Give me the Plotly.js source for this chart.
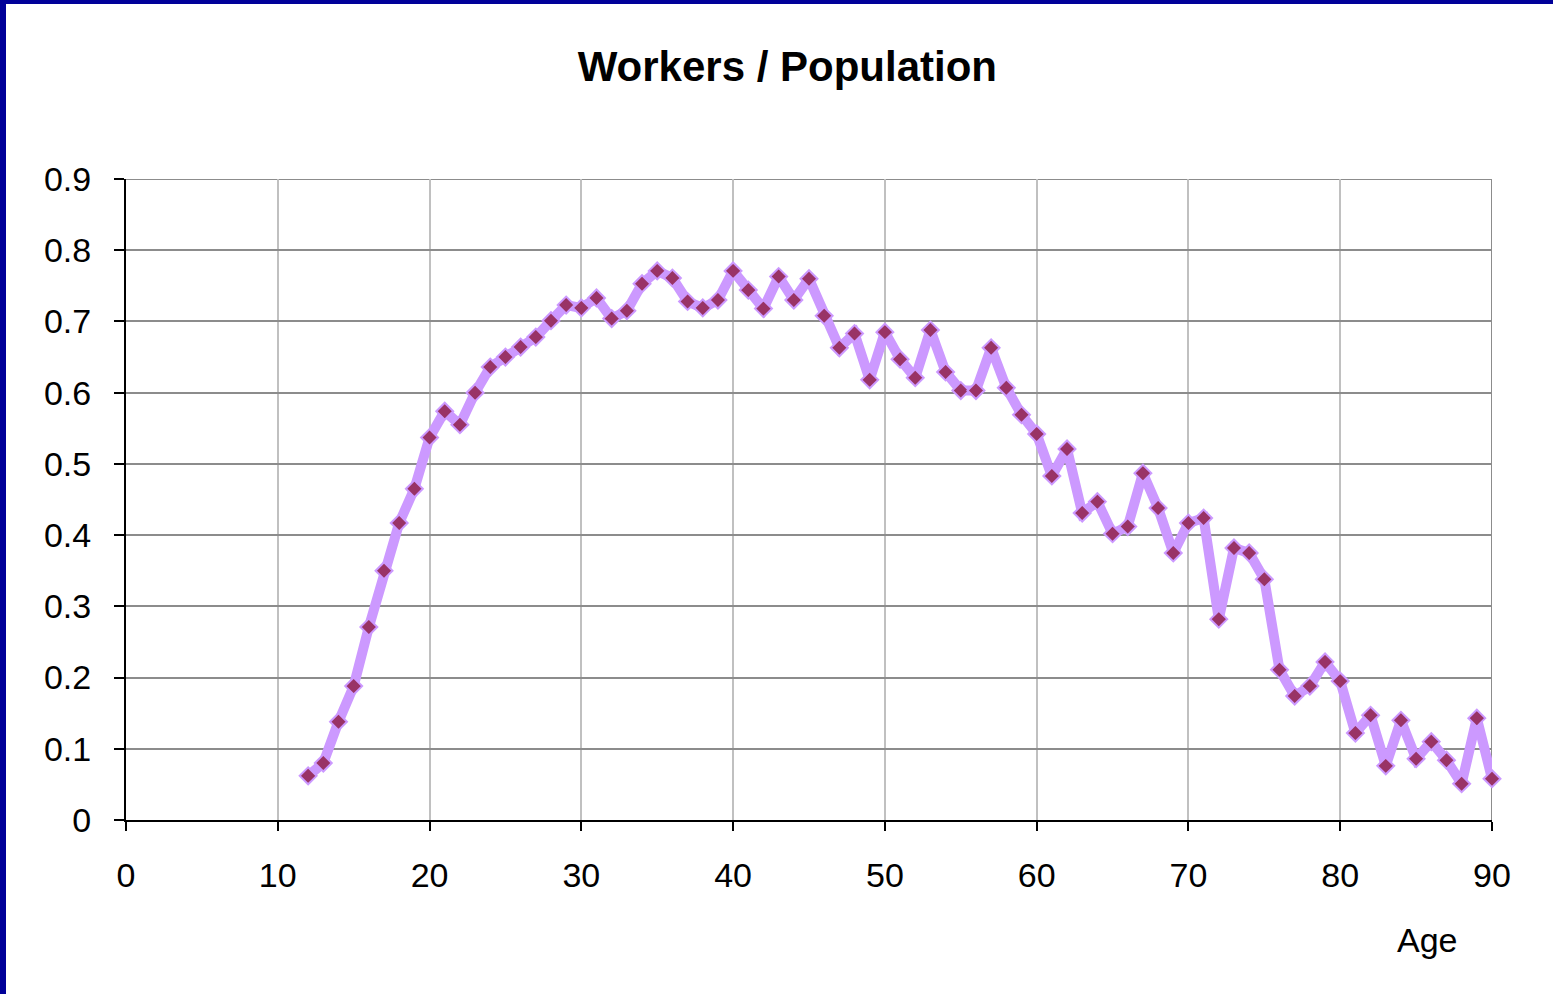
<!DOCTYPE html>
<html>
<head>
<meta charset="utf-8">
<script src="https://cdn.plot.ly/plotly-3.0.1.min.js"></script>
<style>
  html, body { margin: 0; padding: 0; background: #ffffff; }
  #wrap { position: relative; width: 1553px; height: 994px; overflow: hidden; }
  #chart { position: absolute; left: 0; top: 0; width: 1553px; height: 994px; }
  #bTop { position: absolute; left: 0; top: 0; width: 1553px; height: 4px; background: #000099; }
  #bLeft { position: absolute; left: 0; top: 0; width: 6px; height: 994px; background: #000099; }
</style>
</head>
<body>
<div id="wrap">
  <div id="chart"></div>
  <div id="bTop"></div>
  <div id="bLeft"></div>
</div>
<script>
const ages = [12,13,14,15,16,17,18,19,20,21,22,23,24,25,26,27,28,29,30,31,32,33,34,35,36,37,38,39,40,
  41,42,43,44,45,46,47,48,49,50,51,52,53,54,55,56,57,58,59,60,61,62,63,64,65,66,67,68,69,70,
  71,72,73,74,75,76,77,78,79,80,81,82,83,84,85,86,87,88,89,90];
const ratio = [0.062,0.080,0.138,0.188,0.271,0.350,0.417,0.465,0.537,0.574,0.555,0.600,0.636,0.650,0.664,0.678,0.701,0.723,0.719,0.733,0.704,0.715,0.753,0.771,0.761,0.728,0.719,0.730,0.771,
  0.744,0.718,0.763,0.730,0.760,0.708,0.663,0.683,0.618,0.685,0.647,0.621,0.688,0.629,0.603,0.603,0.663,0.607,0.569,0.542,0.483,0.521,0.431,0.447,0.402,0.412,0.487,0.438,0.375,0.417,
  0.424,0.282,0.382,0.375,0.338,0.211,0.174,0.188,0.222,0.195,0.122,0.147,0.076,0.140,0.086,0.110,0.084,0.051,0.143,0.058];
const xTicks = [0,10,20,30,40,50,60,70,80,90];
const yTicks = [0,0.1,0.2,0.3,0.4,0.5,0.6,0.7,0.8,0.9];
const yTickText = ['0','0.1','0.2','0.3','0.4','0.5','0.6','0.7','0.8','0.9'];
const chartTitle = 'Workers / Population';
const xLabel = 'Age';

const font = 'Liberation Sans, Arial, sans-serif';

const trace = {
  x: ages, y: ratio, type: 'scatter', mode: 'lines+markers',
  line: { color: '#CC99FF', width: 10 },
  marker: { symbol: 'diamond', size: 13, color: '#993366', line: { color: '#CC99FF', width: 2 } },
  cliponaxis: false,
  hoverinfo: 'x+y'
};

const layout = {
  width: 1553, height: 994,
  margin: { l: 126, r: 61, t: 179, b: 174, pad: 0 },
  paper_bgcolor: '#ffffff', plot_bgcolor: '#ffffff',
  showlegend: false,
  font: { family: font, size: 34, color: '#000000' },
  title: { text: '<b>' + chartTitle + '</b>', font: { family: font, size: 42, color: '#000000' },
           x: 0.507, xref: 'container', xanchor: 'center', y: 0.933, yref: 'container', yanchor: 'middle' },
  xaxis: {
    range: [0, 90], tickvals: xTicks, ticktext: xTicks.map(String),
    showgrid: true, gridcolor: '#C0C0C0', gridwidth: 2,
    zeroline: false, showline: true, linecolor: '#000000', linewidth: 2,
    ticks: 'outside', ticklen: 9, tickwidth: 2, tickcolor: '#000000',
    ticklabelstandoff: 15,
    tickfont: { family: font, size: 34, color: '#000000' }
  },
  yaxis: {
    range: [0, 0.9], tickvals: yTicks, ticktext: yTickText,
    showgrid: true, gridcolor: '#8C8C8C', gridwidth: 2,
    zeroline: false, showline: true, linecolor: '#000000', linewidth: 2,
    ticks: 'outside', ticklen: 10, tickwidth: 2, tickcolor: '#000000',
    ticklabelstandoff: 16,
    tickfont: { family: font, size: 34, color: '#000000' }
  },
  shapes: [
    { type: 'line', xref: 'x', yref: 'paper', x0: 90, x1: 90, y0: 0, y1: 1, line: { color: '#8C8C8C', width: 2 }, layer: 'below' },
    { type: 'line', xref: 'paper', yref: 'y', x0: 0, x1: 1, y0: 0.9, y1: 0.9, line: { color: '#8C8C8C', width: 2 }, layer: 'below' }
  ],
  annotations: [
    { text: xLabel, xref: 'paper', yref: 'paper', x: 0.953, y: -0.187, xanchor: 'center', yanchor: 'middle',
      showarrow: false, font: { family: font, size: 34, color: '#000000' } }
  ]
};

Plotly.newPlot('chart', [trace], layout, { displayModeBar: false, staticPlot: true });
</script>
</body>
</html>
